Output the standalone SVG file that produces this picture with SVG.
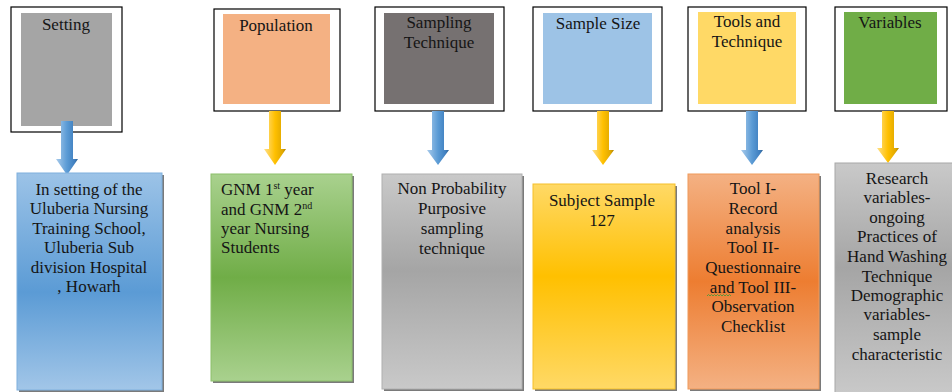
<svg xmlns="http://www.w3.org/2000/svg" width="952" height="392" viewBox="0 0 952 392" font-family="'Liberation Serif', 'Times New Roman', serif">
<style>
text{font-family:'Liberation Serif',serif;font-size:17px;fill:#151515}
.c{text-anchor:middle}
.frame{fill:#fff;stroke:#000;stroke-width:1.2}
.sh{fill:#4d4d4d;opacity:.75}
</style>
<defs>
<linearGradient id="gBlue" x1="0" y1="0" x2="0" y2="1"><stop offset="0" stop-color="#9cc3e7"/><stop offset=".55" stop-color="#5b9bd5"/><stop offset="1" stop-color="#a2c6e8"/></linearGradient>
<linearGradient id="gGreen" x1="0" y1="0" x2="0" y2="1"><stop offset="0" stop-color="#a9d18e"/><stop offset=".5" stop-color="#70ad47"/><stop offset="1" stop-color="#a9d18e"/></linearGradient>
<linearGradient id="gGray" x1="0" y1="0" x2="0" y2="1"><stop offset="0" stop-color="#c9c9c9"/><stop offset=".45" stop-color="#a5a5a5"/><stop offset="1" stop-color="#c9c9c9"/></linearGradient>
<linearGradient id="gGold" x1="0" y1="0" x2="0" y2="1"><stop offset="0" stop-color="#ffd966"/><stop offset=".45" stop-color="#ffc000"/><stop offset="1" stop-color="#ffd966"/></linearGradient>
<linearGradient id="gOrange" x1="0" y1="0" x2="0" y2="1"><stop offset="0" stop-color="#f4b183"/><stop offset=".5" stop-color="#ed7d31"/><stop offset="1" stop-color="#f4b183"/></linearGradient>
<linearGradient id="aBlue" x1="0" y1="0" x2="1" y2="0"><stop offset="0" stop-color="#a9cbeb"/><stop offset=".5" stop-color="#5b9bd5"/><stop offset=".85" stop-color="#3f7fbf"/><stop offset="1" stop-color="#2e5f8f"/></linearGradient>
<linearGradient id="aGold" x1="0" y1="0" x2="1" y2="0"><stop offset="0" stop-color="#ffe08a"/><stop offset=".5" stop-color="#ffc000"/><stop offset=".85" stop-color="#e0a800"/><stop offset="1" stop-color="#a87e00"/></linearGradient>
</defs>

<g id="top-setting"><rect class="frame" x="11" y="7" width="111" height="125"/><rect x="21" y="13" width="91" height="113" fill="#a5a5a5"/><text class="c" x="66" y="30">Setting</text></g>
<g id="top-population"><rect class="frame" x="214" y="9" width="126" height="102"/><rect x="223" y="14" width="107" height="90" fill="#f4b183"/><text class="c" x="276" y="31">Population</text></g>
<g id="top-sampling"><rect class="frame" x="375" y="7" width="129" height="104"/><rect x="384" y="13" width="110" height="91" fill="#767171"/><text class="c" x="439" y="28">Sampling</text><text class="c" x="439" y="48">Technique</text></g>
<g id="top-samplesize"><rect class="frame" x="533" y="7" width="129" height="104"/><rect x="543" y="13" width="109" height="91" fill="#9dc3e6"/><text class="c" x="598" y="29">Sample Size</text></g>
<g id="top-tools"><rect class="frame" x="688" y="7" width="118" height="104"/><rect x="698" y="12" width="98" height="92" fill="#ffd966"/><text class="c" x="747" y="27">Tools and</text><text class="c" x="747" y="47">Technique</text></g>
<g id="top-variables"><rect class="frame" x="835" y="7" width="112" height="104"/><rect x="844" y="12" width="93" height="92" fill="#70ad47"/><text class="c" x="890" y="28">Variables</text></g>

<g id="connectors">
<path d="M61 121H73V159H78L67 175L56 159H61Z" fill="url(#aBlue)"/>
<path d="M269 111H281V149H286L275 165L264 149H269Z" fill="url(#aGold)"/>
<path d="M432 111H444V150H449L438 165L427 150H432Z" fill="url(#aBlue)"/>
<path d="M597 111H609V150H614L603 165L592 150H597Z" fill="url(#aGold)"/>
<path d="M746 111H758V150H763L752 165L741 150H746Z" fill="url(#aBlue)"/>
<path d="M882 111H894V148H899L888 163L877 148H882Z" fill="url(#aGold)"/>
</g>

<g id="box-setting"><rect class="sh" x="19" y="175" width="145" height="217"/><rect x="17" y="173" width="145" height="217" fill="url(#gBlue)" stroke="#7fb0de" stroke-width="1"/>
<text class="c" x="89"><tspan x="89" y="195">In setting of the</tspan><tspan x="89" y="214">Uluberia Nursing</tspan><tspan x="89" y="234">Training School,</tspan><tspan x="89" y="253">Uluberia Sub</tspan><tspan x="89" y="273">division Hospital</tspan><tspan x="89" y="292">, Howarh</tspan></text></g>

<g id="box-population"><rect class="sh" x="213" y="176" width="141" height="207"/><rect x="211" y="174" width="141" height="207" fill="url(#gGreen)" stroke="#8cc06a" stroke-width="1"/>
<text x="221" y="195">GNM 1<tspan font-size="10" dy="-6">st</tspan><tspan dy="6"> year</tspan></text>
<text x="221" y="215">and GNM 2<tspan font-size="10" dy="-6">nd</tspan></text>
<text x="221" y="234">year Nursing</text>
<text x="221" y="253">Students</text></g>

<g id="box-sampling"><rect class="sh" x="384" y="176" width="140" height="215"/><rect x="382" y="174" width="140" height="215" fill="url(#gGray)" stroke="#b0b0b0" stroke-width="1"/>
<text class="c"><tspan x="452" y="194">Non Probability</tspan><tspan x="452" y="214">Purposive</tspan><tspan x="452" y="234">sampling</tspan><tspan x="452" y="254">technique</tspan></text></g>

<g id="box-samplesize"><rect class="sh" x="535" y="186" width="142" height="205"/><rect x="533" y="184" width="142" height="205" fill="url(#gGold)" stroke="#f5c02a" stroke-width="1"/>
<text class="c"><tspan x="602" y="206">Subject Sample</tspan><tspan x="602" y="226">127</tspan></text></g>

<g id="box-tools"><rect class="sh" x="690" y="176" width="131" height="215"/><rect x="688" y="174" width="131" height="215" fill="url(#gOrange)" stroke="#f09a5a" stroke-width="1"/>
<text class="c"><tspan x="753" y="194">Tool I-</tspan><tspan x="753" y="214">Record</tspan><tspan x="753" y="234">analysis</tspan><tspan x="753" y="253">Tool II-</tspan><tspan x="753" y="273">Questionnaire</tspan><tspan x="753" y="293">and Tool III-</tspan><tspan x="753" y="312">Observation</tspan><tspan x="753" y="332">Checklist</tspan></text>
<path d="M707 296l1.5-1.5 1.5 1.5 1.5-1.5 1.5 1.5 1.5-1.5 1.5 1.5 1.5-1.5 1.5 1.5 1.5-1.5 1.5 1.5 1.5-1.5 1.5 1.5 1.5-1.5 1.5 1.5 1.5-1.5 1.5 1.5" fill="none" stroke="#3a9a3a" stroke-width=".8"/></g>

<g id="box-variables"><rect x="835" y="163" width="120" height="232" fill="url(#gGray)" stroke="#a8a8a8" stroke-width="1"/>
<text class="c"><tspan x="897" y="184">Research</tspan><tspan x="897" y="203">variables-</tspan><tspan x="897" y="223">ongoing</tspan><tspan x="897" y="242">Practices of</tspan><tspan x="897" y="262">Hand Washing</tspan><tspan x="897" y="282">Technique</tspan><tspan x="897" y="301">Demographic</tspan><tspan x="897" y="320">variables-</tspan><tspan x="897" y="340">sample</tspan><tspan x="897" y="360">characteristic</tspan></text></g>
</svg>
